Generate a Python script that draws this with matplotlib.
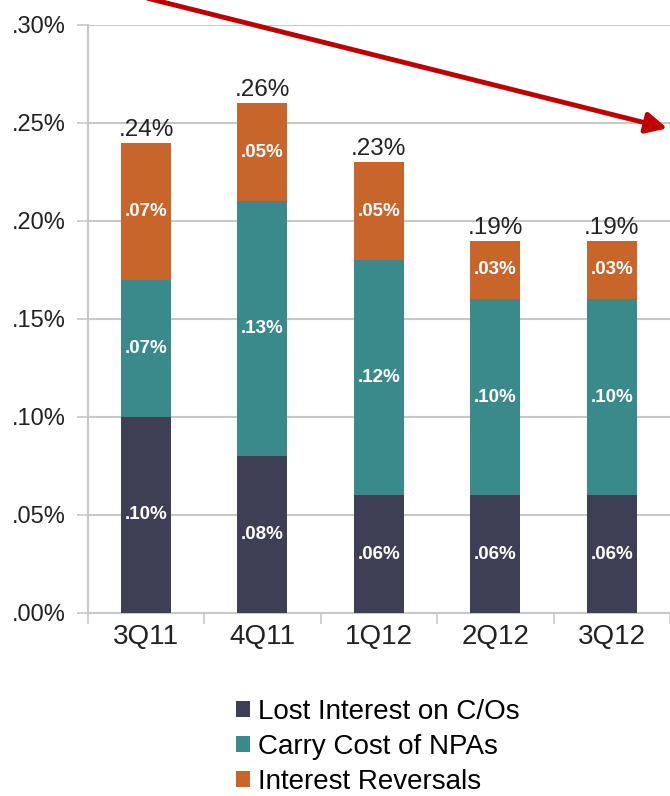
import numpy as np
import matplotlib.pyplot as plt
from matplotlib.patches import FancyArrowPatch

plt.rcParams['font.family'] = ['Liberation Sans', 'DejaVu Sans']

# Quarterly components (% of loans)
quarters = ["3Q11", "4Q11", "1Q12", "2Q12", "3Q12"]
lost_interest = [0.10, 0.08, 0.06, 0.06, 0.06]
carry_cost = [0.07, 0.13, 0.12, 0.10, 0.10]
reversals = [0.07, 0.05, 0.05, 0.03, 0.03]
totals = [0.24, 0.26, 0.23, 0.19, 0.19]
series_names = ["Lost Interest on C/Os", "Carry Cost of NPAs", "Interest Reversals"]

colours = ["#3e3f55", "#3a8a8b", "#c8652b"]
grid_col = "#c8c8c8"

fig = plt.figure(figsize=(6.7, 7.96), dpi=100)
ax = fig.add_axes([0.131, 0.23, 0.869, 0.7386])

x = np.arange(len(quarters))
width = 0.43
bottom = np.zeros(len(quarters))
for vals, col, name in zip([lost_interest, carry_cost, reversals], colours, series_names):
    vals = np.array(vals)
    ax.bar(x, vals, width, bottom=bottom, color=col, label=name, zorder=3)
    for xi, b, v in zip(x, bottom, vals):
        ax.text(xi, b + v / 2, f"{v:.2f}%".lstrip("0"), ha="center", va="center",
                color="white", fontsize=13.5, fontweight="bold", zorder=4)
    bottom += vals

for xi, t in zip(x, totals):
    ax.text(xi, t + 0.001, f"{t:.2f}%".lstrip("0"), ha="center", va="bottom",
            fontsize=17.5, color="#222222")

ax.set_xlim(-0.5, len(quarters) - 0.5)
ax.set_ylim(0, 0.30)
yt = np.arange(0, 0.301, 0.05)
ax.set_yticks(yt)
ax.set_yticklabels([f"{v:.2f}%".lstrip("0") for v in yt], fontsize=17, color="#222222")
ax.set_xticks(x)
ax.set_xticklabels(quarters, fontsize=20, color="#222222")
ax.set_xticks(np.arange(-0.5, len(quarters) - 0.4, 1), minor=True)
ax.tick_params(axis="x", which="major", length=0, pad=8)
ax.tick_params(axis="x", which="minor", length=8, color=grid_col, width=1.2)
ax.tick_params(axis="y", length=8, color=grid_col, width=1.2, pad=8)

ax.grid(axis="y", color=grid_col, linewidth=1.5, zorder=0)
for side in ["top", "right"]:
    ax.spines[side].set_visible(False)
for side in ["left", "bottom"]:
    ax.spines[side].set_color(grid_col)
    ax.spines[side].set_linewidth(1.5)

# downward trend arrow
fig.patches.append(FancyArrowPatch(
    (145 / 670, 1.003), (670 / 670, 1 - 129 / 796), transform=fig.transFigure,
    arrowstyle="-|>,head_length=5,head_width=2.5", color="#c00000",
    linewidth=3.5, mutation_scale=2.5, clip_on=False))

handles, labels = ax.get_legend_handles_labels()
fig.legend(handles, labels, loc="upper left", bbox_to_anchor=(222 / 670, 1 - 685 / 796),
           frameon=False, fontsize=20, handlelength=0.5, handleheight=0.5,
           handletextpad=0.3, labelspacing=0.33, borderpad=0)

fig.savefig("out.png", dpi=100)
